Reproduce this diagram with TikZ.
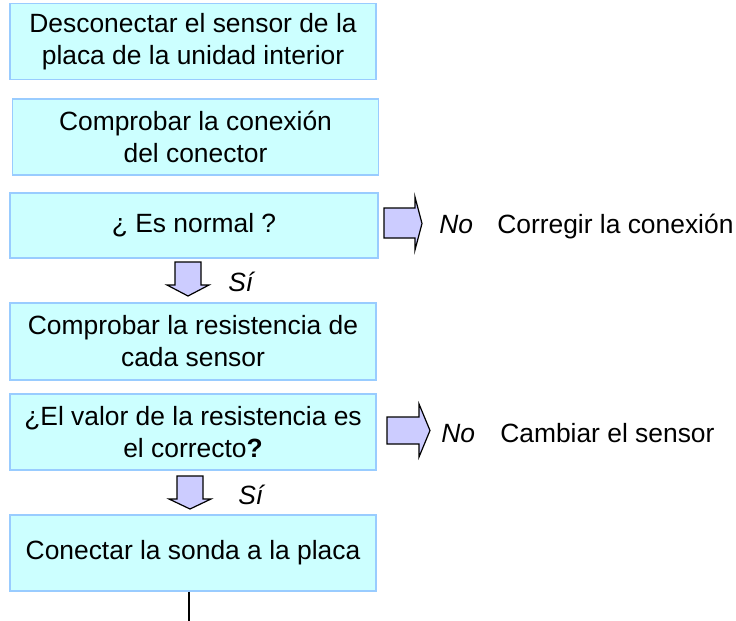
\documentclass[tikz,border=0pt]{standalone}
\usepackage{fontspec}
\setmainfont{Liberation Sans}
\definecolor{boxfill}{HTML}{CCFFFF}
\definecolor{boxline}{HTML}{99CCFF}
\definecolor{arrfill}{HTML}{CCCCFF}
\begin{document}
\begin{tikzpicture}[x=0.75pt,y=-0.75pt,
  box/.style={draw=boxline, fill=boxfill, line width=1pt, inner sep=0pt,
    minimum width=274.5pt, minimum height=57pt, align=center,
    font=\fontsize{19.8pt}{24pt}\selectfont},
  blockarrow/.style={draw=black, fill=arrfill, line width=0.9pt, line join=miter},
  lbl/.style={inner sep=0pt, anchor=base west, font=\fontsize{19.8pt}{24pt}\selectfont},
  ilbl/.style={lbl, font=\fontsize{19.8pt}{24pt}\selectfont\itshape}]
\useasboundingbox (0,0) rectangle (736,621);

\node[box] (b1) at (193,41.5) {Desconectar el sensor de la\\placa de la unidad interior};
\node[box] (b2) at (195.5,137) {Comprobar la conexión\\del conector};
\node[box, minimum width=276pt, minimum height=48.75pt] (b3) at (194,225.5) {¿ Es normal ?};
\node[box, minimum height=57.75pt] (b4) at (193,341.5) {Comprobar la resistencia de\\cada sensor};
\node[box] (b5) at (193,432) {¿El valor de la resistencia es\\el correcto\textbf{?}};
\node[box] (b6) at (193,553) {Conectar la sonda a la placa};

% down arrows
\draw[blockarrow] (175,262) -- (201,262) -- (201,285) -- (209,285) -- (188,296) -- (167,285) -- (175,285) -- cycle;
\node[ilbl] (si1) at (228,291) {Sí};
\draw[blockarrow] (177,476) -- (203,476) -- (203,499) -- (211,499) -- (190,509) -- (169,499) -- (177,499) -- cycle;
\node[ilbl] (si2) at (238,504) {Sí};

% right arrows
\draw[blockarrow] (384,208) -- (415,208) -- (415,197) -- (422,223.5) -- (415,250) -- (415,238) -- (384,238) -- cycle;
\node[ilbl] (no1) at (439,233) {No};
\node[lbl] (c1) at (497,233) {Corregir la conexión};
\draw[blockarrow] (387,417) -- (419,417) -- (419,404) -- (430,430.5) -- (419,457) -- (419,444) -- (387,444) -- cycle;
\node[ilbl] (no2) at (441,442) {No};
\node[lbl] (c2) at (500,442) {Cambiar el sensor};

% bottom line
\coordinate (end) at (189,621);
\draw[line width=1pt] (b6.south -| end) -- (end);
\end{tikzpicture}
\end{document}
